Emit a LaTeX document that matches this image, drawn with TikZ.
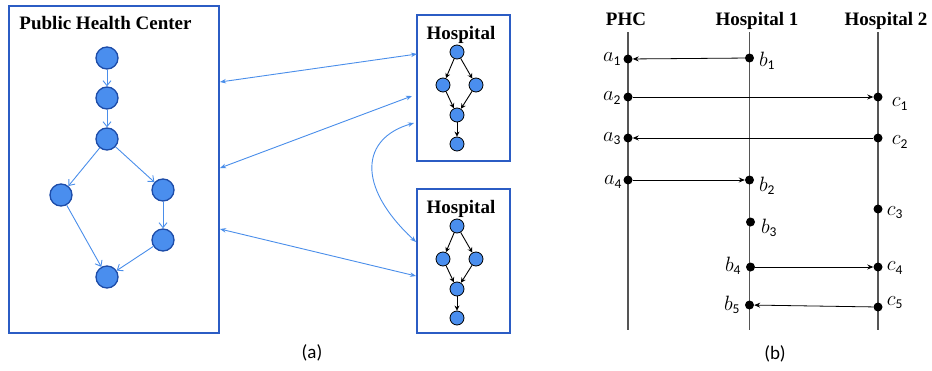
\documentclass[tikz,border=0pt]{standalone}
\usepackage{fontspec}
\setmainfont{Liberation Serif}
\newfontfamily\calfont{Carlito}
\usetikzlibrary{arrows.meta}
\definecolor{boxblue}{HTML}{2B5CC4}
\definecolor{nodefill}{HTML}{4A8EEE}
\definecolor{nodeedge}{HTML}{1D4CA8}
\definecolor{edgeblue}{HTML}{4A8EEA}
\definecolor{lifegray}{HTML}{555555}
\newcommand\evlbl[2]{$#1_{\hbox{\calfont\fontsize{13.5}{13.5}\selectfont #2}}$}
\tikzset{
  panelbox/.style={draw=boxblue,line width=2pt},
  bignode/.style={circle,fill=nodefill,draw=nodeedge,line width=1.3pt,minimum size=22pt,inner sep=0pt},
  smallnode/.style={circle,fill=nodefill,draw=black,line width=0.8pt,minimum size=14pt,inner sep=0pt},
  bigedge/.style={draw=edgeblue,line width=0.9pt,-{Straight Barb[length=5pt,width=8pt]}},
  smalledge/.style={draw=black,line width=0.9pt,-{Stealth[length=5pt,width=5pt]}},
  linkedge/.style={draw=edgeblue,line width=0.9pt,{Stealth[length=6pt,width=4.5pt]}-{Stealth[length=6pt,width=4.5pt]}},
  titletext/.style={font=\bfseries\fontsize{19}{22}\selectfont,anchor=base,inner sep=0pt},
  captext/.style={font=\calfont\fontsize{19}{22}\selectfont,anchor=base,inner sep=0pt},
  evdot/.style={circle,fill=black,minimum size=9pt,inner sep=0pt},
  lifeline/.style={draw=lifegray,line width=1.2pt},
  msg/.style={draw=black,line width=0.8pt,-{Stealth[length=6pt,width=5pt]}},
  evtext/.style={font=\fontsize{20}{24}\selectfont,inner sep=0pt},
}
\begin{document}
\begin{tikzpicture}[x=1pt,y=-1pt]
\useasboundingbox (0,0) rectangle (932,370);
% ---------- (a) ----------
\node[panelbox,minimum width=210pt,minimum height=327pt,inner sep=0pt] (phc) at (114,169.5) {};
\node[titletext] (phct) at (105.5,29) {Public Health Center};
\node[bignode] (n1) at (107,58) {};
\node[bignode] (n2) at (107,98) {};
\node[bignode] (n3) at (107,139) {};
\node[bignode] (n4) at (61,195) {};
\node[bignode] (n5) at (163,190) {};
\node[bignode] (n6) at (163,240) {};
\node[bignode] (n7) at (107,277) {};
\draw[bigedge] (n1) -- (n2);
\draw[bigedge] (n2) -- (n3);
\draw[bigedge] (n3) -- (n4);
\draw[bigedge] (n3) -- (n5);
\draw[bigedge] (n5) -- (n6);
\draw[bigedge] (n4) -- (n7);
\draw[bigedge] (n6) -- (n7);
% hospital boxes
\node[panelbox,minimum width=93pt,minimum height=146pt,inner sep=0pt] (h1) at (463.5,88) {};
\node[panelbox,minimum width=93pt,minimum height=144pt,inner sep=0pt] (h2) at (463.5,261) {};
\node[titletext] (h1t) at (461,39) {Hospital};
\node[titletext] (h2t) at (461,213) {Hospital};
\foreach \h/\dy in {p/0,q/174}{
  \node[smallnode] (\h1) at (457,52+\dy) {};
  \node[smallnode] (\h2) at (443,85+\dy) {};
  \node[smallnode] (\h3) at (476,85+\dy) {};
  \node[smallnode] (\h4) at (457,115+\dy) {};
  \node[smallnode] (\h5) at (457,144+\dy) {};
  \draw[smalledge] (\h1) -- (\h2);
  \draw[smalledge] (\h1) -- (\h3);
  \draw[smalledge] (\h2) -- (\h4);
  \draw[smalledge] (\h3) -- (\h4);
  \draw[smalledge] (\h4) -- (\h5);
}
% links
\coordinate (l1a) at (220,82);
\coordinate (l1b) at (417,54);
\coordinate (l2a) at (220,168);
\coordinate (l2b) at (412,96);
\coordinate (l3a) at (414,123);
\coordinate (l3b) at (416,242);
\coordinate (l4a) at (220,229);
\coordinate (l4b) at (416,276);
\draw[linkedge] (l1a) -- (l1b);
\draw[linkedge] (l2a) -- (l2b);
\draw[linkedge] (l3a) .. controls (362,138) and (355,185) .. (l3b);
\draw[linkedge] (l4a) -- (l4b);
\node[captext] (capa) at (312,358) {(a)};
% ---------- (b) ----------
\node[titletext] (hp) at (626,25) {PHC};
\node[titletext] (hh1) at (757,25) {Hospital 1};
\node[titletext] (hh2) at (886,25) {Hospital 2};
\coordinate (pt) at (628,32); \coordinate (pb) at (628,330);
\coordinate (at) at (749.5,32); \coordinate (ab) at (749.5,330);
\coordinate (bt) at (878,32); \coordinate (bb) at (878,330);
\draw[lifeline] (pt) -- (pb);
\draw[lifeline] (at) -- (ab);
\draw[lifeline] (bt) -- (bb);
\node[evdot] (a1) at (628,59) {};
\node[evdot] (a2) at (628,97) {};
\node[evdot] (a3) at (628,138) {};
\node[evdot] (a4) at (628,180) {};
\node[evdot] (b1) at (749.5,58) {};
\node[evdot] (b2) at (749.5,180) {};
\node[evdot] (b3) at (750.5,222) {};
\node[evdot] (b4) at (750.5,267) {};
\node[evdot] (b5) at (749.5,305) {};
\node[evdot] (c1) at (878,97) {};
\node[evdot] (c2) at (878,138) {};
\node[evdot] (c3) at (878,209) {};
\node[evdot] (c4) at (878,267) {};
\node[evdot] (c5) at (878,307) {};
\draw[msg] (b1) -- (a1);
\draw[msg] (a2) -- (c1);
\draw[msg] (c2) -- (a3);
\draw[msg] (a4) -- (b2);
\draw[msg] (b4) -- (c4);
\draw[msg] (c5) -- (b5);
\node[evtext] (la1) at (612,59) {\evlbl{a}{1}};
\node[evtext] (la2) at (612,98) {\evlbl{a}{2}};
\node[evtext] (la3) at (612,139) {\evlbl{a}{3}};
\node[evtext] (la4) at (613,182) {\evlbl{a}{4}};
\node[evtext] (lb1) at (767,61) {\evlbl{b}{1}};
\node[evtext] (lb2) at (767,186) {\evlbl{b}{2}};
\node[evtext] (lb3) at (769,228) {\evlbl{b}{3}};
\node[evtext] (lb4) at (733,266) {\evlbl{b}{4}};
\node[evtext] (lb5) at (732,305) {\evlbl{b}{5}};
\node[evtext] (lc1) at (900,104) {\evlbl{c}{1}};
\node[evtext] (lc2) at (900,142) {\evlbl{c}{2}};
\node[evtext] (lc3) at (895,213) {\evlbl{c}{3}};
\node[evtext] (lc4) at (895,268) {\evlbl{c}{4}};
\node[evtext] (lc5) at (895,303) {\evlbl{c}{5}};
\node[captext] (capb) at (775,359) {(b)};
\end{tikzpicture}
\end{document}
